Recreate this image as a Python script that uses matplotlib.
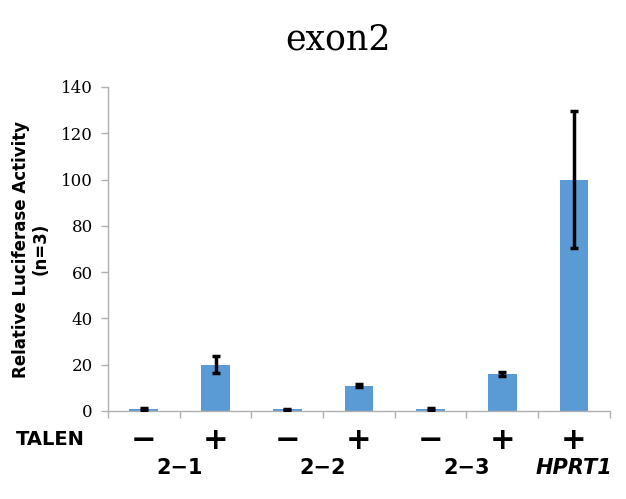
import matplotlib.pyplot as plt
import matplotlib.transforms as mtransforms
import numpy as np

# data
values = [0.8, 20.0, 0.7, 11.0, 0.8, 16.0, 100.0]
errors = [0.3, 3.8, 0.3, 0.8, 0.3, 1.0, 29.5]
talen_signs = ["\u2212", "+", "\u2212", "+", "\u2212", "+", "+"]
group_labels = ["2\u22121", "2\u22122", "2\u22123", "HPRT1"]
group_positions = [0.5, 2.5, 4.5, 6.0]
yticks = [0, 20, 40, 60, 80, 100, 120, 140]

grey = "#b0b0b0"
bar_color = "#5b9bd5"

fig = plt.figure(figsize=(6.26, 4.99), dpi=100, facecolor="white")
ax = fig.add_axes([0.1725, 0.1764, 0.8015, 0.6493])

x = np.arange(len(values))
ax.bar(x, values, width=0.4, color=bar_color, zorder=2)
ax.errorbar(x, values, yerr=errors, fmt="none", ecolor="black",
            elinewidth=2.5, capsize=3, capthick=2.5, zorder=3)

ax.set_xlim(-0.5, len(values) - 0.5)
ax.set_ylim(0, 140)
ax.set_yticks(yticks)
ax.set_yticklabels([str(t) for t in yticks], family="DejaVu Serif", fontsize=12)
ax.set_xticks(np.arange(-0.5, len(values)))
ax.set_xticklabels([])

for side in ["top", "right"]:
    ax.spines[side].set_visible(False)
for side in ["left", "bottom"]:
    ax.spines[side].set_color(grey)
    ax.spines[side].set_linewidth(1.0)
ax.tick_params(axis="both", colors=grey, length=5, width=1.0)
ax.tick_params(axis="y", labelcolor="black", pad=6)

ax.set_ylabel("Relative Luciferase Activity\n(n=3)", fontsize=12,
              fontweight="bold", labelpad=8, linespacing=1.1)
fig.text(0.54, 0.92, "exon2", family="DejaVu Serif", fontsize=25,
         ha="center", va="center")

trans = mtransforms.blended_transform_factory(ax.transData, ax.transAxes)
for xi, s in zip(x, talen_signs):
    ax.text(xi, -0.09, s, transform=trans, ha="center", va="center",
            fontsize=22, fontweight="bold")
fig.text(0.025, 0.12, "TALEN", ha="left", va="center", fontsize=14,
         fontweight="bold")
for pos, lab in zip(group_positions, group_labels):
    ax.text(pos, -0.175, lab, transform=trans, ha="center", va="center",
            fontsize=15, fontweight="bold",
            style="italic" if lab == "HPRT1" else "normal")

fig.savefig("out.png", dpi=100, facecolor="white")
